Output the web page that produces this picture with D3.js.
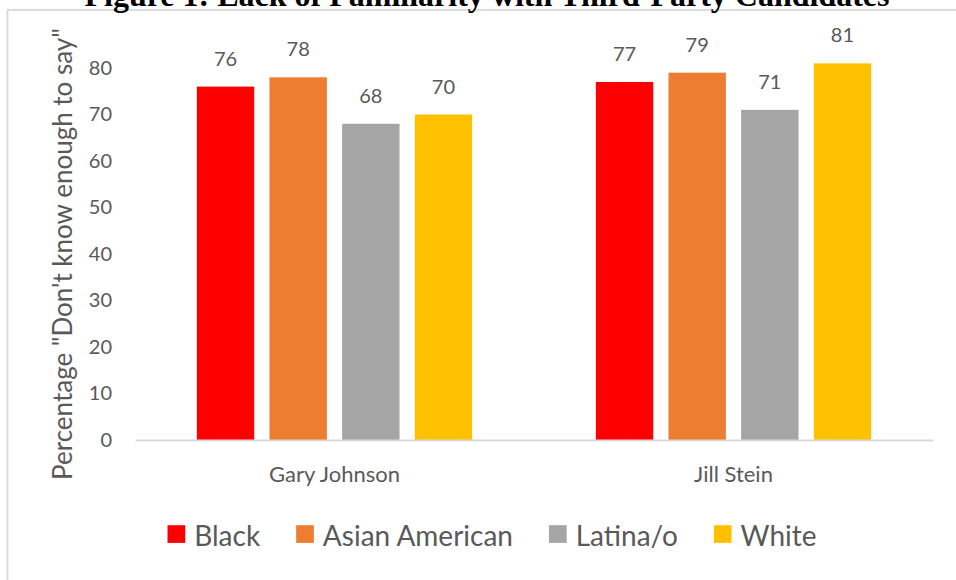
<!DOCTYPE html>
<html><head><meta charset="utf-8">
<script src="https://cdn.jsdelivr.net/npm/d3@7"></script>
<style>
  body { margin: 0; background: #fff; }
  text { font-family: "Lato", sans-serif; fill: #595959; }
</style>
</head><body>
<svg id="chart" width="956" height="580"></svg>
<script>
// Share of respondents answering "Don't know enough to say", by group
const candidates = ["Gary Johnson", "Jill Stein"];
const groups = ["Black", "Asian American", "Latina/o", "White"];
const black = [76, 77];
const asianAmerican = [78, 79];
const latinx = [68, 71];
const white = [70, 81];
const yTicks = [0, 10, 20, 30, 40, 50, 60, 70, 80];
const colors = ["#FF0000", "#ED7D31", "#A5A5A5", "#FFC000"];

const seriesValues = [black, asianAmerican, latinx, white];

const svg = d3.select("#chart");

// outer frame of the chart area
svg.append("rect")
  .attr("x", 7.5).attr("y", 10)
  .attr("width", 1000).attr("height", 620)
  .attr("fill", "none")
  .attr("stroke", "#D9D9D9")
  .attr("stroke-width", 1.8);

// title
svg.append("text")
  .attr("x", 487).attr("y", 6)
  .attr("text-anchor", "middle")
  .style("font-family", "'Liberation Serif', 'Times New Roman', serif")
  .style("font-weight", "bold")
  .style("font-size", "32px")
  .style("fill", "#000")
  .text("Figure 1: Lack of Familiarity with Third-Party Candidates");

const plot = { left: 135, right: 933, top: 68, bottom: 440 };

const x0 = d3.scaleBand()
  .domain(candidates)
  .range([plot.left, plot.right])
  .paddingInner(0.31)
  .paddingOuter(0.155);

const x1 = d3.scaleBand()
  .domain(groups)
  .range([0, x0.bandwidth()])
  .paddingInner(0.21);

const y = d3.scaleLinear()
  .domain([0, 80])
  .range([plot.bottom, plot.top]);

// y axis labels (no line, no ticks)
const yAxis = svg.append("g")
  .attr("transform", `translate(${plot.left},0)`)
  .call(d3.axisLeft(y).tickValues(yTicks).tickSize(0).tickPadding(23));
yAxis.select(".domain").remove();
yAxis.selectAll("text")
  .style("font-family", "Lato, sans-serif")
  .style("font-size", "20px")
  .style("fill", "#595959");

// bars
const groupG = svg.append("g").selectAll("g")
  .data(candidates)
  .join("g")
  .attr("transform", d => `translate(${x0(d)},0)`);

groupG.selectAll("rect")
  .data((c, ci) => groups.map((g, gi) => ({ g, gi, v: seriesValues[gi][ci] })))
  .join("rect")
  .attr("x", d => x1(d.g))
  .attr("width", x1.bandwidth())
  .attr("y", d => y(d.v))
  .attr("height", d => y(0) - y(d.v))
  .attr("fill", d => colors[d.gi]);

// value labels
groupG.selectAll("text.val")
  .data((c, ci) => groups.map((g, gi) => ({ g, gi, v: seriesValues[gi][ci] })))
  .join("text")
  .attr("class", "val")
  .attr("x", d => x1(d.g) + x1.bandwidth() / 2)
  .attr("y", d => y(d.v) - 21)
  .attr("text-anchor", "middle")
  .style("font-size", "20px")
  .text(d => d.v);

// x axis line and category labels
const xAxis = svg.append("g")
  .attr("transform", `translate(0,${plot.bottom})`)
  .call(d3.axisBottom(x0).tickSize(0).tickPadding(26).tickSizeOuter(0));
xAxis.select(".domain")
  .attr("stroke", "#D9D9D9")
  .attr("stroke-width", 1.8);
xAxis.selectAll("text")
  .style("font-family", "Lato, sans-serif")
  .style("font-size", "22px")
  .style("fill", "#595959");

// y axis title
svg.append("text")
  .attr("transform", `translate(72,${(plot.top + plot.bottom) / 2}) rotate(-90)`)
  .attr("text-anchor", "middle")
  .style("font-size", "26px")
  .text("Percentage \"Don't know enough to say\"");

// legend
const legend = svg.append("g");
const items = legend.selectAll("g")
  .data(groups)
  .join("g");
items.append("rect")
  .attr("width", 17.7).attr("height", 17.7)
  .attr("y", -20.5)
  .attr("fill", (d, i) => colors[i]);
items.append("text")
  .attr("x", 26.7)
  .style("font-size", "28px")
  .text(d => d);

let cursor = 0;
items.each(function () {
  const t = d3.select(this).select("text").node();
  d3.select(this).attr("transform", `translate(${cursor},0)`);
  cursor += 26.7 + t.getComputedTextLength() + 36;
});
const legendWidth = cursor - 36;
legend.attr("transform", `translate(${492 - legendWidth / 2},545.7)`);
</script></body></html>
